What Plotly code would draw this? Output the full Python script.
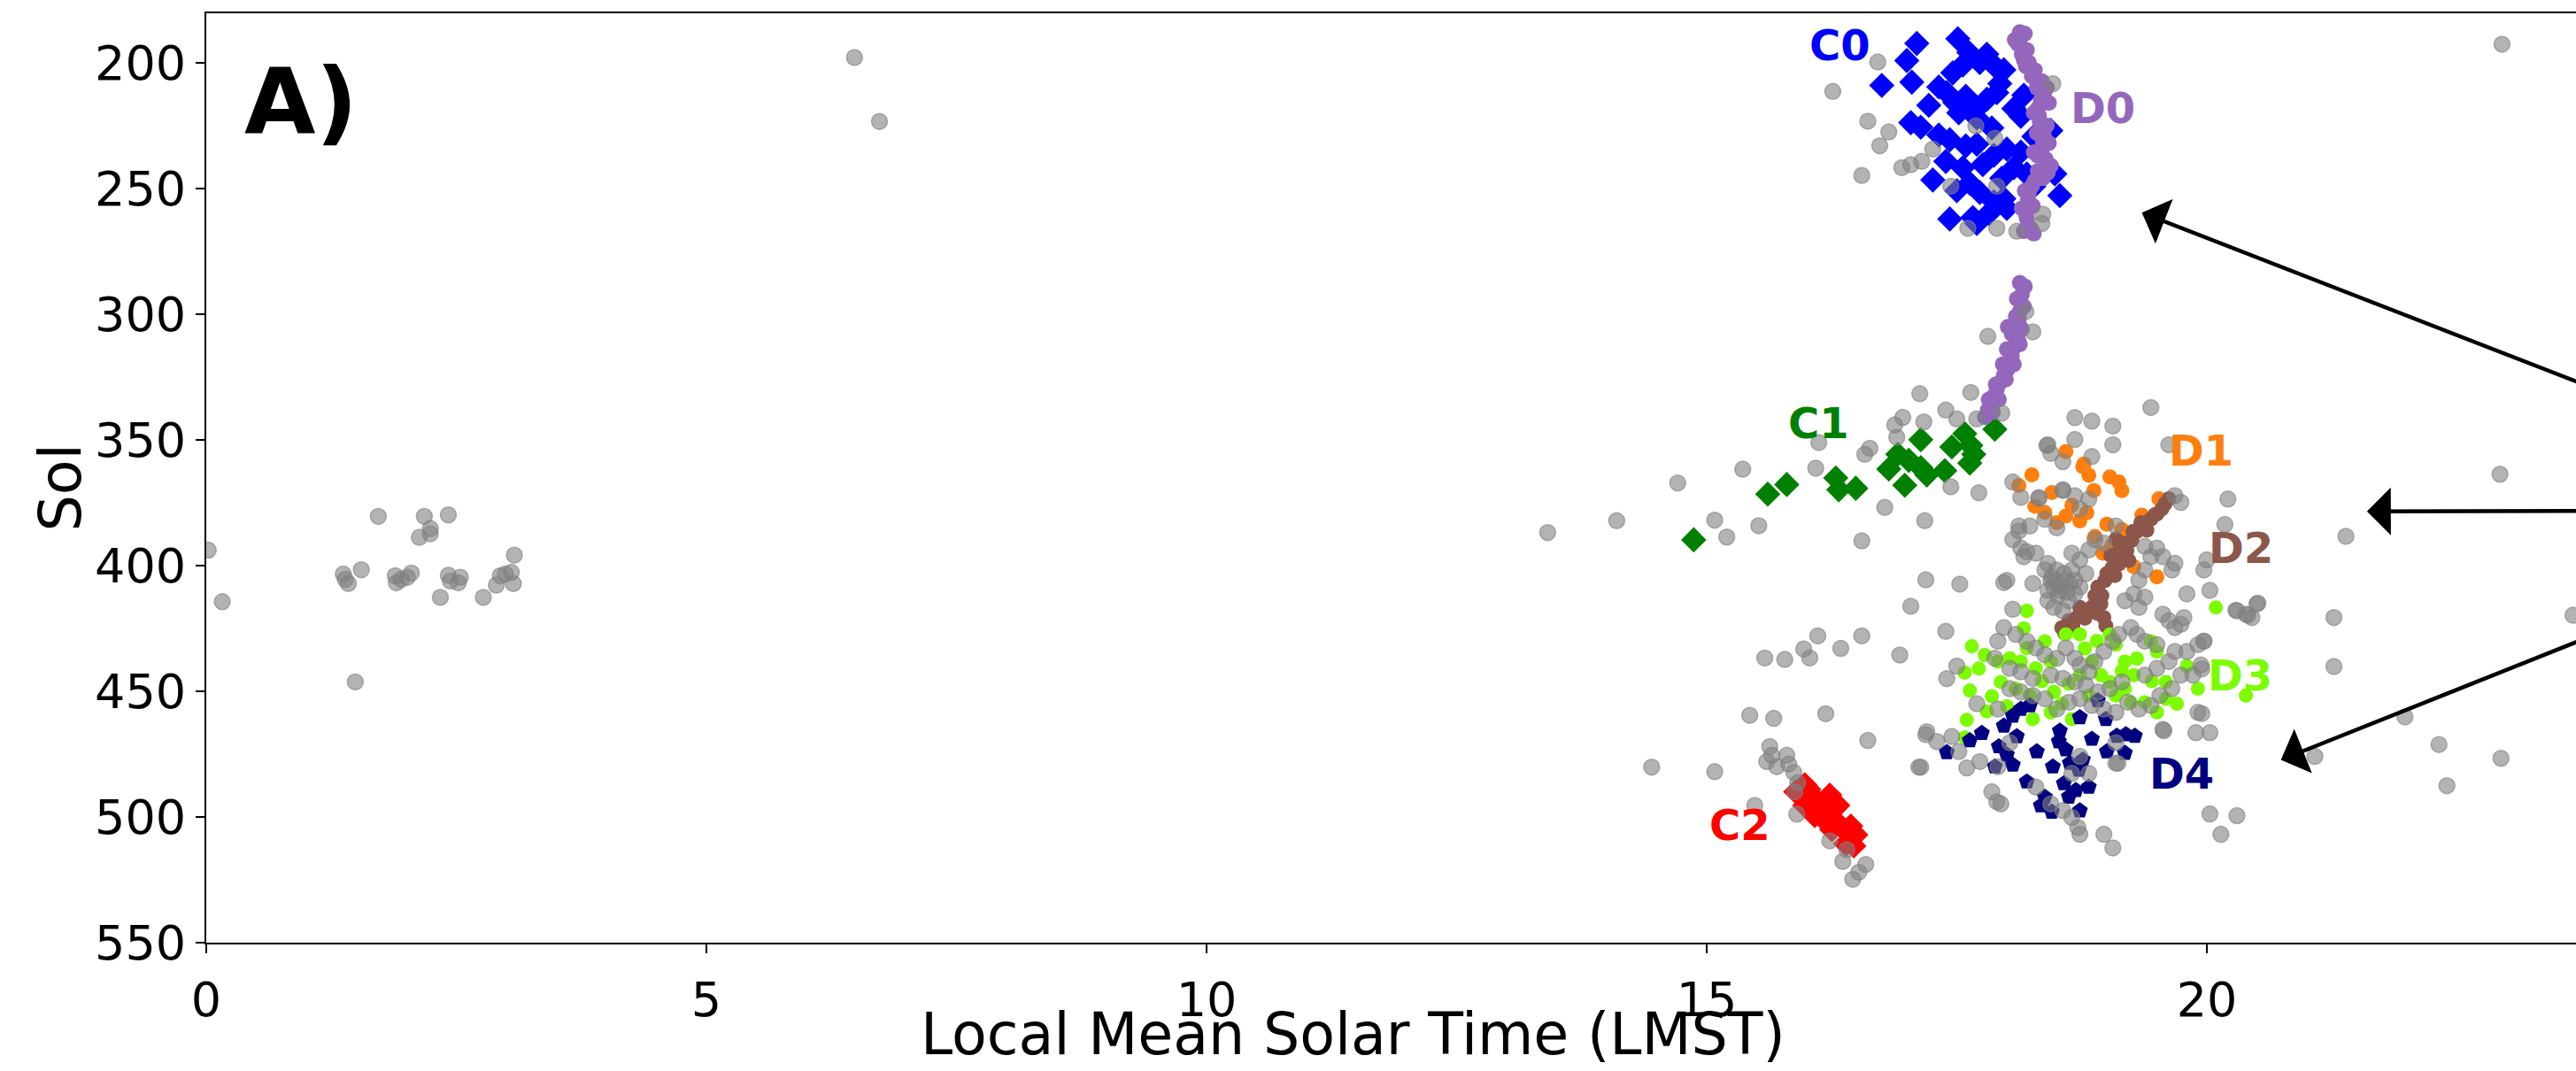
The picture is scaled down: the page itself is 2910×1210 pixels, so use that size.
import plotly.graph_objects as go

# ---- axis ticks ----
x_ticks = [0, 5, 10, 15, 20]
y_ticks = [200, 250, 300, 350, 400, 450, 500, 550]

# ---- background detections (grey) : (LMST, Sol) ----
gray_pts = [
    # early-morning group
    (0.02, 393.9), (0.16, 414.4), (1.37, 403.4), (1.39, 405.5), (1.42, 407.2), (1.55, 401.7),
    (1.49, 446.3), (1.89, 404.1), (1.90, 406.9), (1.95, 405.5), (2.01, 404.7), (2.05, 403.0),
    (2.13, 388.8), (2.24, 387.4), (2.34, 412.7), (2.42, 403.9), (2.44, 406.2), (2.52, 406.9),
    (2.54, 404.7), (2.77, 412.7), (2.90, 407.8), (2.94, 404.1), (2.99, 403.4), (3.05, 402.7),
    (3.07, 407.2), (3.08, 395.9), (1.72, 380.5), (2.18, 380.5), (2.42, 379.9), (2.24, 385.3),
    (6.48, 198.0), (6.73, 223.4),
    # afternoon spread
    (13.41, 386.9), (14.10, 382.2), (14.71, 367.2), (15.36, 361.7), (15.08, 382.0), (15.20, 388.7),
    (15.52, 384.2), (16.09, 361.3), (16.12, 351.1), (16.55, 390.2), (16.58, 355.8), (16.63, 353.4),
    (16.78, 376.9), (17.18, 382.2), (16.88, 344.1), (16.96, 341.1), (17.13, 331.7), (17.17, 342.9),
    (17.39, 338.2), (17.50, 341.7), (17.44, 368.7), (17.64, 331.2), (17.70, 341.7), (17.72, 371.1),
    (17.81, 308.9), (17.95, 339.4), (16.90, 349.0), (18.26, 307.1), (18.19, 299.0),
    (17.19, 405.7), (17.04, 416.2), (17.39, 426.2), (16.11, 428.0), (15.97, 433.2), (15.58, 436.8),
    (15.78, 437.4), (16.03, 436.8), (16.34, 433.0), (16.55, 428.0), (16.93, 435.6), (15.43, 459.6),
    (15.67, 460.8), (16.19, 459.0), (16.61, 469.6), (17.19, 467.3), (17.14, 480.2), (14.45, 480.2),
    (15.08, 482.0),
    (15.63, 472.0), (15.65, 475.5), (15.60, 478.0), (15.70, 480.0), (15.80, 475.5), (15.82, 479.0),
    (15.87, 482.3), (15.91, 486.4), (15.88, 490.0), (15.48, 495.4), (15.90, 498.9), (16.23, 509.5),
    (16.36, 517.7), (16.59, 518.9), (16.46, 524.8), (16.52, 522.0), (16.40, 513.0),
    (17.20, 466.1), (17.12, 480.2), (17.45, 468.0), (17.52, 474.0), (17.60, 480.5), (17.73, 478.0),
    (17.85, 490.0), (17.90, 494.0), (17.40, 445.0), (17.50, 440.0), (17.70, 455.0), (17.30, 470.0),
    # around C0 / D0
    (16.26, 211.5), (16.61, 223.3), (16.71, 199.8), (16.82, 227.6), (16.73, 233.1), (16.55, 244.9),
    (16.95, 241.8), (17.04, 240.6), (17.15, 239.3), (17.26, 234.4), (17.44, 249.2), (17.61, 265.9),
    (17.90, 265.9), (18.10, 267.1), (17.88, 230.1), (17.90, 249.2), (18.36, 260.3), (18.46, 208.4),
    (18.35, 264.0), (17.69, 225.2),
    # evening cluster
    (17.97, 406.8), (17.53, 407.4), (18.06, 417.4), (18.12, 386.3), (18.20, 394.5), (18.41, 399.2),
    (18.32, 373.4), (18.56, 369.9), (18.40, 352.3), (18.68, 349.9),
    (19.44, 337.2), (18.68, 341.2), (18.85, 342.6), (19.06, 344.6), (19.06, 352.0), (18.41, 352.0),
    (18.44, 355.4), (18.85, 356.7), (18.56, 358.7), (18.06, 366.8), (18.14, 372.9), (18.32, 372.9),
    (18.56, 370.2), (18.68, 372.2), (18.82, 373.6), (19.68, 372.2), (19.74, 374.9), (20.21, 373.6),
    (20.18, 383.7), (21.39, 388.4), (18.73, 377.6), (18.38, 381.6), (18.50, 385.0), (18.12, 384.3),
    (18.23, 384.3), (18.06, 389.7), (18.14, 393.1), (18.29, 395.1), (18.17, 396.5), (18.00, 405.9),
    (18.26, 407.2), (18.38, 401.8), (18.44, 405.9), (18.50, 401.8), (18.53, 409.9), (18.59, 405.9),
    (18.65, 401.8), (18.41, 414.0), (18.47, 416.7), (18.56, 418.0), (18.62, 414.0), (18.68, 411.3),
    (18.73, 408.6), (18.79, 403.2), (18.73, 397.8), (18.65, 395.1), (18.82, 393.8), (18.88, 389.7),
    (18.97, 391.1), (19.09, 384.3), (19.38, 392.4), (19.50, 393.1), (19.56, 396.5), (19.65, 401.8),
    (19.68, 399.1), (19.44, 396.5), (19.38, 401.8), (19.32, 405.9), (19.27, 411.3), (19.18, 414.0),
    (19.32, 416.7), (19.38, 412.6), (19.80, 411.3), (20.03, 409.9), (20.30, 418.0), (20.39, 419.4),
    (20.50, 415.3), (20.45, 420.7), (19.97, 401.8), (20.00, 397.8), (19.77, 420.7), (19.68, 424.7),
    (19.62, 422.0), (19.56, 419.4), (19.74, 423.4), (19.50, 431.5), (19.38, 430.1), (19.30, 427.4),
    (19.24, 424.7), (19.12, 427.4), (19.06, 430.1), (18.97, 434.2), (18.88, 438.2), (18.82, 442.3),
    (18.73, 439.6), (18.68, 436.9), (18.59, 432.8), (18.50, 436.9), (18.38, 435.5), (18.29, 432.8),
    (18.20, 430.1), (18.09, 427.4), (17.97, 424.7), (17.91, 430.1), (17.88, 436.9), (18.03, 440.9),
    (18.14, 442.3), (18.26, 444.9), (18.44, 443.6), (18.56, 444.9), (18.68, 446.3), (18.79, 447.6),
    (18.91, 450.3), (19.03, 449.0), (19.15, 446.3), (19.38, 443.6), (19.50, 440.9), (19.62, 438.2),
    (19.68, 434.2), (19.80, 434.2), (19.91, 431.5), (19.97, 430.1), (19.94, 439.6), (19.86, 443.6),
    (19.74, 443.6), (19.65, 449.0), (19.53, 451.7), (19.44, 455.7), (19.32, 457.1), (19.21, 454.4),
    (19.09, 458.4), (18.97, 457.1), (18.85, 455.7), (18.73, 453.0), (18.62, 454.4), (18.50, 457.1),
    (18.38, 453.0), (18.26, 451.7), (18.14, 450.3), (18.03, 449.0), (17.91, 457.1), (19.91, 458.4),
    (20.03, 466.5), (19.89, 466.5), (19.56, 465.2), (19.09, 470.5), (19.09, 478.6), (18.73, 475.9),
    (18.65, 482.7), (18.82, 482.7), (18.29, 488.1), (18.44, 494.8), (18.56, 497.5), (18.65, 500.2),
    (18.71, 504.2), (18.73, 506.9), (18.97, 506.9), (19.06, 512.3), (20.03, 498.8), (20.30, 499.5),
    (20.14, 506.9), (21.27, 420.7), (21.27, 440.2), (21.08, 475.9), (17.94, 494.8), (17.91, 480.0),
    (18.03, 470.5), (19.62, 352.0), (19.97, 430.1), (19.95, 441.1), (19.95, 458.9), (19.57, 465.7),
    (19.11, 478.7), (20.51, 415.0), (20.29, 417.8), (20.41, 419.8),
    (18.47, 408.6), (18.54, 407.9), (18.60, 410.6), (18.51, 412.0), (18.57, 403.2), (18.45, 404.5),
    (18.63, 407.2), (18.68, 405.9), (18.48, 405.9), (18.41, 409.9),
    # far evening
    (21.98, 460.2), (22.32, 471.2), (22.94, 476.7), (22.40, 487.6), (23.66, 419.8), (22.93, 363.7),
    (22.95, 192.7),
]

# ---- clusters C (diamonds) ----
c0_pts = [
    (17.10, 192.4), (17.51, 190.5), (17.00, 199.2), (16.75, 209.1), (17.05, 207.8), (17.32, 209.7),
    (17.46, 204.1), (17.56, 201.0), (17.80, 196.7), (17.87, 201.0), (17.97, 202.9), (17.93, 208.4),
    (17.48, 215.9), (17.59, 213.4), (17.70, 218.3), (17.70, 222.0), (17.80, 214.6), (18.07, 218.3),
    (18.14, 221.4), (17.04, 223.9), (17.14, 225.7), (17.32, 228.8), (17.43, 230.7), (17.59, 233.1),
    (17.70, 232.5), (17.39, 239.3), (17.56, 241.8), (17.76, 240.6), (17.87, 236.9), (18.00, 234.4),
    (18.14, 235.6), (18.07, 241.8), (18.20, 244.3), (18.27, 229.4), (18.44, 227.0), (17.26, 246.7),
    (17.63, 248.0), (17.73, 251.7), (17.87, 255.4), (17.97, 254.1), (18.27, 249.2), (18.48, 244.3),
    (18.53, 252.9), (17.43, 262.2), (17.66, 261.6), (17.70, 264.0),
    (17.62, 196.0), (17.73, 200.0), (17.40, 212.0), (17.52, 220.0), (17.85, 226.0), (17.95, 246.0),
    (17.50, 251.0), (17.82, 260.0), (18.00, 258.0), (17.22, 217.0), (17.90, 212.0), (18.17, 213.0),
]
c1_pts = [
    (14.87, 389.8), (15.61, 371.6), (15.80, 367.8), (16.29, 365.2), (16.32, 369.9), (16.49, 369.3),
    (16.82, 361.7), (16.91, 355.8), (16.98, 368.1), (17.02, 358.2), (17.14, 350.0), (17.14, 361.1),
    (17.20, 364.0), (17.38, 362.3), (17.45, 352.9), (17.58, 347.6), (17.64, 352.3), (17.63, 359.3),
    (17.67, 355.8), (17.88, 345.8),
]
c2_pts = [
    (15.98, 487.2), (16.06, 492.1), (15.98, 495.4), (16.08, 499.5), (16.23, 491.3), (16.31, 495.4),
    (16.18, 501.3), (16.44, 503.6), (16.49, 507.1), (16.39, 510.7), (16.34, 503.6), (15.89, 490.0),
    (16.02, 489.0), (16.12, 494.5), (16.27, 497.0), (16.25, 505.0), (16.42, 507.0), (16.47, 511.5),
    (16.12, 496.0),
]

# ---- clusters D (round / pentagon markers) ----
d0_pts = [
    (18.13, 187.9), (18.11, 192.6), (18.15, 196.7), (18.19, 201.4), (18.25, 205.4), (18.35, 207.4),
    (18.37, 212.8), (18.31, 218.2), (18.33, 223.6), (18.37, 229.0), (18.35, 234.4), (18.39, 238.4),
    (18.31, 243.1), (18.25, 249.2), (18.21, 254.6), (18.19, 260.0), (18.21, 264.7), (18.27, 268.0),
    (18.41, 243.8), (18.27, 235.7), (18.14, 190.0), (18.17, 199.0), (18.30, 210.0), (18.34, 215.0),
    (18.32, 221.0), (18.36, 226.0), (18.36, 232.0), (18.22, 252.0), (18.20, 257.0), (18.20, 262.0),
    (18.18, 188.5), (18.08, 191.0), (18.20, 195.0), (18.22, 200.0), (18.28, 203.0), (18.40, 210.0),
    (18.42, 216.0), (18.27, 220.0), (18.40, 225.0), (18.30, 228.0), (18.42, 232.0), (18.31, 237.0),
    (18.44, 241.0), (18.36, 246.0), (18.28, 247.0), (18.18, 251.0), (18.26, 257.0), (18.15, 258.0),
    (18.24, 266.0), (18.17, 267.0),
    (18.13, 287.6), (18.15, 292.3), (18.13, 299.0), (18.07, 304.4), (18.11, 309.8), (18.05, 316.5),
    (18.01, 321.9), (17.93, 327.3), (17.87, 332.7), (17.81, 338.1), (18.01, 305.1), (18.14, 295.5),
    (18.12, 302.0), (18.08, 313.0), (18.03, 319.0), (17.97, 324.5), (17.90, 330.0), (17.84, 335.5),
    (18.18, 289.0), (18.10, 294.0), (18.17, 297.0), (18.09, 301.0), (18.15, 306.0), (18.05, 308.0),
    (18.13, 312.0), (18.00, 314.0), (18.07, 320.0), (17.96, 320.0), (17.99, 326.0), (17.89, 328.0),
    (17.92, 334.0), (17.82, 334.0), (17.86, 339.0), (17.78, 341.0),
]
d1_pts = [
    (18.59, 354.7), (18.12, 368.2), (18.76, 360.7), (18.82, 364.1), (19.03, 364.8), (19.12, 366.8),
    (19.15, 370.2), (18.87, 370.2), (18.38, 378.9), (18.59, 380.3), (18.73, 382.3), (18.88, 388.4),
    (19.00, 383.6), (19.15, 385.7), (18.96, 395.1), (19.27, 400.5), (19.50, 404.5), (19.52, 373.5),
    (19.20, 388.0), (18.77, 359.7),
    (18.25, 364.0), (18.45, 371.0), (18.65, 376.0), (18.80, 379.0), (19.05, 392.0), (19.35, 380.0),
    (18.50, 383.0), (18.28, 376.5),
]
d2_pts = [
    (19.62, 373.5), (19.55, 377.5), (19.44, 381.6), (19.38, 383.8), (19.09, 389.6), (19.15, 391.1),
    (19.19, 396.4), (19.12, 399.4), (19.00, 403.2), (18.91, 408.6), (18.94, 415.3), (18.97, 420.7),
    (18.85, 416.6), (18.73, 416.7), (18.62, 422.0), (18.55, 424.8), (18.70, 420.7), (19.50, 379.5),
    (19.30, 386.5), (19.05, 401.0), (18.95, 412.0), (18.80, 418.5), (19.20, 394.0),
    (19.58, 375.5), (19.48, 379.8), (19.40, 386.0), (19.34, 383.0), (19.25, 390.0), (19.13, 393.5),
    (19.22, 398.0), (19.08, 404.0), (18.98, 406.0), (18.88, 412.0), (18.90, 419.0), (18.99, 424.0),
    (18.78, 421.0), (18.66, 424.0), (18.58, 427.0), (19.04, 396.0), (19.26, 386.5),
]
d3_pts = [
    (18.20, 418.0), (18.73, 427.4), (19.03, 427.4), (19.09, 431.5), (19.44, 430.1), (19.50, 434.2),
    (19.18, 438.2), (19.27, 443.6), (18.85, 438.2), (18.94, 443.6), (19.03, 446.3), (18.73, 443.6),
    (18.44, 438.2), (18.29, 440.9), (18.14, 438.2), (18.03, 436.9), (17.91, 438.2), (17.94, 446.3),
    (18.09, 449.0), (18.23, 451.7), (18.47, 450.3), (18.65, 461.1), (18.44, 458.4), (18.26, 461.1),
    (19.18, 449.0), (19.24, 454.4), (19.38, 454.4), (19.50, 458.4), (19.59, 453.0), (19.59, 446.3),
    (20.09, 416.7), (19.91, 449.0), (20.39, 451.7), (19.09, 451.7), (18.82, 451.7), (18.59, 427.4),
    (18.38, 430.1), (18.20, 432.8),
    (17.65, 432.1), (17.58, 442.6), (17.63, 449.7), (17.78, 435.6), (17.58, 468.4), (17.60, 461.4),
    (17.72, 441.0), (17.85, 452.0), (18.00, 456.0), (18.35, 446.0), (18.55, 455.0), (18.78, 433.0),
    (18.90, 430.0), (19.30, 437.0), (19.45, 446.0), (19.70, 455.0), (19.80, 440.0), (18.62, 447.0),
    (19.15, 442.0), (18.17, 425.0), (17.80, 458.0),
]
d4_pts = [
    (18.14, 457.1), (18.23, 455.7), (18.06, 459.8), (17.97, 463.8), (18.53, 465.8), (18.59, 473.2),
    (18.63, 478.6), (18.72, 481.3), (18.76, 477.3), (18.57, 486.7), (18.69, 489.4), (18.82, 488.1),
    (18.73, 497.5), (18.38, 492.1), (18.34, 495.5), (18.00, 475.3), (18.06, 479.3), (17.88, 480.0),
    (18.91, 453.7), (18.73, 460.4), (18.99, 461.1), (19.10, 467.8), (19.19, 467.2), (19.28, 467.8),
    (19.18, 474.6), (17.40, 474.3), (17.63, 469.6), (17.75, 466.7),
    (18.10, 468.0), (18.30, 474.0), (18.46, 480.0), (18.52, 470.0), (18.85, 469.0), (19.00, 474.0),
    (18.62, 492.0), (18.45, 498.0), (17.92, 472.0), (18.20, 486.0),
]

# ---- cluster labels: (text, LMST, Sol, colour) ----
cluster_labels = [
    ("C0", 16.33, 193.0, "#0000ff"),
    ("D0", 18.96, 217.9, "#9467bd"),
    ("C1", 16.12, 343.2, "#008000"),
    ("D1", 19.94, 354.4, "#ff7f0e"),
    ("D2", 20.34, 393.0, "#8c564b"),
    ("D3", 20.33, 443.6, "#7cfc00"),
    ("D4", 19.75, 482.7, "#000080"),
    ("C2", 15.33, 503.3, "#ff0000"),
]

# ---- arrows toward the companion panel: heads and common tail ----
arrow_heads = [(19.35, 259.7), (21.60, 378.5), (20.74, 477.3)]
arrow_tail = (27.0, 378.0)


def xs(pts):
    return [p[0] for p in pts]


def ys(pts):
    return [p[1] for p in pts]


fig = go.Figure()


def add_group(pts, color, symbol, size):
    fig.add_trace(go.Scatter(
        x=xs(pts), y=ys(pts), mode="markers",
        marker=dict(color=color, symbol=symbol, size=size,
                    line=dict(width=0)),
        hoverinfo="skip",
    ))


add_group(c0_pts, "#0000ff", "diamond", 22)
add_group(c1_pts, "#008000", "diamond", 22)
add_group(c2_pts, "#ff0000", "diamond", 22)
add_group(d0_pts, "#9467bd", "circle", 18)
add_group(d1_pts, "#ff7f0e", "circle", 17)
add_group(d2_pts, "#8c564b", "circle", 17)
add_group(d3_pts, "#7cfc00", "circle", 16)
add_group(d4_pts, "#000080", "pentagon", 19)

# grey background detections drawn last, semi-transparent
fig.add_trace(go.Scatter(
    x=xs(gray_pts), y=ys(gray_pts), mode="markers",
    marker=dict(color="rgba(128,128,128,0.6)", symbol="circle", size=18,
                line=dict(width=1.5, color="rgba(128,128,128,0.6)")),
    hoverinfo="skip",
))

for text, lx, ly, col in cluster_labels:
    fig.add_annotation(x=lx, y=ly, xref="x", yref="y", text=f"<b>{text}</b>",
                       showarrow=False, font=dict(size=48, color=col,
                                                  family="DejaVu Sans"),
                       xanchor="center", yanchor="middle")

for hx, hy in arrow_heads:
    fig.add_annotation(x=hx, y=hy, xref="x", yref="y",
                       ax=arrow_tail[0], ay=arrow_tail[1], axref="x", ayref="y",
                       text="", showarrow=True, arrowhead=1, arrowsize=2.0,
                       arrowwidth=4.5, arrowcolor="black", standoff=0)

# panel tag
fig.add_annotation(x=0.040, y=0.905, xref="paper", yref="paper", text="<b>A)</b>",
                   showarrow=False, font=dict(size=104, color="black", family="DejaVu Sans"),
                   xanchor="center", yanchor="middle")

# axis titles (x title anchored at its bottom so it stays inside the figure)
fig.add_annotation(x=0.4841, y=-0.1352, xref="paper", yref="paper",
                   text="Local Mean Solar Time (LMST)", showarrow=False,
                   font=dict(size=65, color="black", family="DejaVu Sans"),
                   xanchor="center", yanchor="bottom", borderpad=0)
fig.add_annotation(x=-0.0613, y=0.49, xref="paper", yref="paper", text="Sol",
                   textangle=-90, showarrow=False,
                   font=dict(size=65, color="black", family="DejaVu Sans"),
                   xanchor="center", yanchor="middle")

axis_common = dict(ticks="outside", ticklen=10, tickwidth=2, tickcolor="black",
                   showline=True, linecolor="black", linewidth=2,
                   showgrid=False, zeroline=False,
                   tickfont=dict(size=54, color="black", family="DejaVu Sans"))

fig.update_layout(
    width=2910, height=1210,
    margin=dict(l=233, r=0, t=15, b=145, pad=0),
    paper_bgcolor="white", plot_bgcolor="white",
    showlegend=False,
    font=dict(family="DejaVu Sans", color="black"),
    xaxis=dict(range=[0, 23.69], tickvals=x_ticks, mirror=True, ticklabelstandoff=6,
               **axis_common),
    yaxis=dict(range=[550, 180.4], tickvals=y_ticks, mirror=False, **axis_common),
)

fig.write_html("out.html")
